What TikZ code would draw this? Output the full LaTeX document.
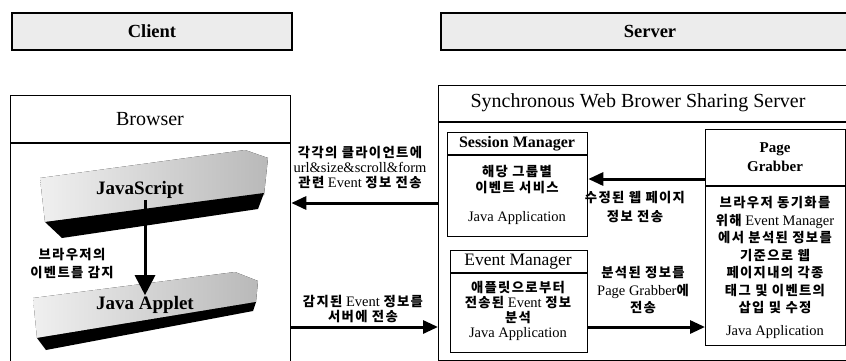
\documentclass[tikz,border=0pt]{standalone}
\usepackage{fontspec}
\setmainfont{Liberation Serif}
\newfontfamily\krfont{Noto Sans CJK KR}[Scale=0.92, LetterSpace=10]
\usetikzlibrary{arrows.meta, positioning}
\newcommand{\kt}[1]{{\krfont\bfseries #1}}

\begin{document}
\begin{tikzpicture}[x=1pt, y=-1pt, >={Triangle[length=15pt,width=13pt]}, font=\fontsize{14.5}{16}\selectfont]
\tikzstyle{bx}=[draw, line width=1.3pt, inner sep=0pt, anchor=north west]
\tikzstyle{bar}=[draw, line width=1.6pt, fill=gray!15, inner sep=0pt]
\tikzstyle{ttl}=[inner sep=0pt, font=\fontsize{20}{22}\selectfont]
\tikzstyle{txt}=[inner sep=0pt, align=center]
\tikzstyle{lbl}=[inner sep=0pt, align=center, font=\fontsize{14.5}{15}\selectfont]
\tikzstyle{arr}=[->, line width=3pt]
\tikzstyle{slab}=[left color=gray!12, right color=gray!55]
\tikzstyle{sep}=[line width=1.3pt]

\useasboundingbox (0,0) rectangle (846,361);
\clip (0,0) rectangle (846,361);

% tiers
\node[bar, minimum width=280pt, minimum height=37pt] (client) at (152,31.5) {};
\node[font=\fontsize{18.5}{20}\selectfont\bfseries] (clientlab) at (152,31.5) {Client};
\node[bar, minimum width=420pt, minimum height=37pt, anchor=west] (server) at (440,31.5) {};
\node[font=\fontsize{18.5}{20}\selectfont\bfseries] (serverlab) at (650,31.5) {Server};

% browser side
\node[bx, minimum width=280pt, minimum height=300pt] (brw) at (10,95) {};
\draw[sep] (brw.west |- 0,143) -- (brw.east |- 0,143);
\node[ttl] (brwt) at (150,119) {Browser};

\fill[slab] (40,178) -- (245,150) -- (268,158) -- (264,195) -- (45,222) -- cycle;
\fill (45,222) -- (264,193) -- (258,209) -- (62,238) -- cycle;
\node[font=\fontsize{19}{22}\selectfont\bfseries, inner sep=1pt] (js) at (140,190) {JavaScript};

\fill[slab] (33,298) -- (235,272) -- (258,281) -- (256,302) -- (37,338) -- cycle;
\fill (37,338) -- (256,302) -- (253,311) -- (46,350) -- cycle;
\node[font=\fontsize{19}{22}\selectfont\bfseries, inner sep=1pt] (applet) at (145,305) {Java Applet};

\draw[line width=3pt, -{Triangle[length=20pt,width=20pt]}] (js.south -| applet.north) -- (applet.north);
\node[lbl, font=\fontsize{14.5}{18}\selectfont] (detect) at (72,264) {\kt{브라우저의}\\\kt{이벤트를 감지}};

% server side
\node[bx, minimum width=420pt, minimum height=275pt] (srv) at (438,85) {};
\draw[sep] (srv.west |- 0,122) -- (srv.east |- 0,122);
\node[ttl] (srvt) at (638,103) {Synchronous Web Brower Sharing Server};

\node[bx, minimum width=140pt, minimum height=104pt] (sm) at (447,132) {};
\draw[sep] (sm.west |- 0,155) -- (sm.east |- 0,155);
\node[font=\fontsize{16}{18}\selectfont\bfseries, inner sep=0pt] (smt) at (517,143.5) {Session Manager};
\node[lbl, font=\fontsize{14.5}{16}\selectfont] (smb) at (517,180) {\kt{해당 그룹별}\\\kt{이벤트 서비스}};
\node[txt] (smj) at (517,218) {Java Application};

\node[bx, minimum width=137pt, minimum height=102pt] (em) at (450,250) {};
\draw[sep] (em.west |- 0,273) -- (em.east |- 0,273);
\node[font=\fontsize{17.5}{20}\selectfont, inner sep=0pt] (emt) at (518,262) {Event Manager};
\node[lbl] (emb) at (518,302) {\kt{애플릿으로부터}\\\kt{전송된} Event \kt{정보}\\\kt{분석}};
\node[txt] (emj) at (518,334) {Java Application};

\node[bx, minimum width=140pt, minimum height=216pt] (pg) at (705,129) {};
\draw[sep] (pg.west |- 0,186) -- (pg.east |- 0,186);
\node[font=\fontsize{15}{19}\selectfont\bfseries, align=center, inner sep=0pt] (pgt) at (775,157.5) {Page\\Grabber};
\node[lbl, font=\fontsize{14.5}{17.5}\selectfont] (pgb) at (775,255.5) {\kt{브라우저 동기화를}\\\kt{위해} Event Manager\\\kt{에서 분석된 정보를}\\\kt{기준으로 웹}\\\kt{페이지내의 각종}\\\kt{태그 및 이벤트의}\\\kt{삽입 및 수정}};
\node[txt] (pgj) at (775,332) {Java Application};

% connectors
\draw[arr] (srv.west |- 0,203) -- (brw.east |- 0,203);
\node[lbl] (sendlab) at (360,168) {\kt{각각의 클라이언트에}\\url\&size\&scroll\&form\\\kt{관련} Event \kt{정보 전송}};
\draw[arr] (brw.east |- 0,327) -- (srv.west |- 0,327);
\node[lbl] (detlab) at (363,309.5) {\kt{감지된} Event \kt{정보를}\\\kt{서버에 전송}};
\draw[arr] (pg.west |- 0,179) -- (sm.east |- 0,179);
\node[lbl, font=\fontsize{14.5}{19}\selectfont] (modlab) at (635,207.5) {\kt{수정된 웹 페이지}\\\kt{정보 전송}};
\draw[arr] (em.east |- 0,327) -- (pg.west |- 0,327);
\node[lbl, font=\fontsize{14.5}{17.5}\selectfont] (anlab) at (643,290.5) {\kt{분석된 정보를}\\Page Grabber\kt{에}\\\kt{전송}};
\end{tikzpicture}
\end{document}
